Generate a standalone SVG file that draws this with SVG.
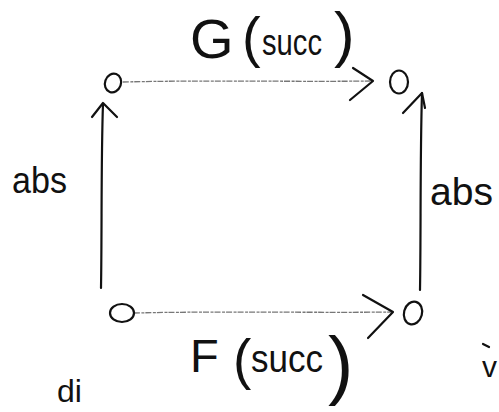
<svg xmlns="http://www.w3.org/2000/svg" width="499" height="412" viewBox="0 0 499 412">
<style>
.bg{fill:#ffffff}
.node{fill:none;stroke:#111;stroke-width:2.2}
.line{fill:none;stroke:#777;stroke-width:1.3;stroke-dasharray:6 1.5 3 1}
.vline{fill:none;stroke:#111;stroke-width:2.2;stroke-linecap:round}
.head{fill:none;stroke:#111;stroke-width:2.2;stroke-linecap:round;stroke-linejoin:round}
text{font-family:"Liberation Sans","DejaVu Sans",sans-serif;fill:#111}
</style>
<rect class="bg" x="0" y="0" width="499" height="412"/>
<g id="connectors">
  <g id="edge-top">
    <path class="line" d="M123,82 C200,80 300,82 372,81"/>
    <path class="head" d="M353,68 L373,81 L350,100"/>
  </g>
  <g id="edge-bottom">
    <path class="line" d="M134,313 C220,311 320,313 392,312"/>
    <path class="head" d="M363,295 L393,312 L368,338"/>
  </g>
  <g id="edge-left">
    <path class="vline" d="M101,288 C102,230 101,160 103,104"/>
    <path class="head" d="M92,117 L103,103 L117,117"/>
  </g>
  <g id="edge-right">
    <path class="vline" d="M420,290 C421,230 420,160 422,93"/>
    <path class="head" d="M403,113 L422,93 L425,108"/>
  </g>
</g>
<g id="labels">
  <text x="190" y="58" font-size="56">G</text>
  <text x="242" y="56" font-size="56">(</text>
  <text x="262" y="55" font-size="36" textLength="60" lengthAdjust="spacingAndGlyphs">succ</text>
  <text x="334" y="55" font-size="62">)</text>
  <text x="190" y="372" font-size="47">F</text>
  <text x="233" y="378" font-size="55">(</text>
  <text x="251" y="372" font-size="38" textLength="72" lengthAdjust="spacingAndGlyphs">succ</text>
  <text x="328" y="390" font-size="76">)</text>
  <text x="12" y="193" font-size="36" textLength="55" lengthAdjust="spacingAndGlyphs">abs</text>
  <text x="430" y="205" font-size="38" textLength="63" lengthAdjust="spacingAndGlyphs">abs</text>
  <text x="482" y="377" font-size="30">v</text>
  <text x="57" y="402" font-size="32">di</text>
</g>
<g id="node-top-left"><ellipse class="node" cx="113" cy="83" rx="8" ry="9.5" transform="rotate(20 113 83)"/></g>
<g id="node-top-right"><ellipse class="node" cx="399" cy="82" rx="9" ry="11.5"/></g>
<g id="node-bottom-left"><ellipse class="node" cx="122" cy="313" rx="12" ry="9"/></g>
<g id="node-bottom-right"><ellipse class="node" cx="413" cy="313" rx="9" ry="11.5" transform="rotate(15 413 313)"/></g>
<path class="head" d="M483,344 L489,347" stroke-width="1.5"/>
</svg>
